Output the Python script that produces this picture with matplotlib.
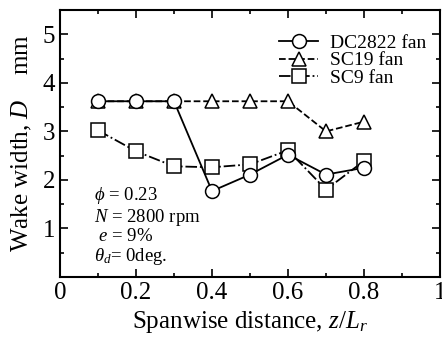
import matplotlib
matplotlib.use("Agg")
import matplotlib.pyplot as plt
from matplotlib.ticker import MultipleLocator

plt.rcParams['font.family'] = ['Liberation Serif', 'DejaVu Serif']
plt.rcParams['mathtext.fontset'] = 'custom'
plt.rcParams['mathtext.it'] = 'Liberation Serif:italic'
plt.rcParams['mathtext.rm'] = 'Liberation Serif'

z = [0.1, 0.2, 0.3, 0.4, 0.5, 0.6, 0.7, 0.8]
dc2822 = [3.62, 3.62, 3.62, 1.77, 2.11, 2.52, 2.11, 2.25]
sc19 = [3.62, 3.62, 3.62, 3.62, 3.62, 3.62, 3.0, 3.2]
sc9 = [3.02, 2.59, 2.28, 2.26, 2.32, 2.61, 1.8, 2.39]

fig = plt.figure(figsize=(4.42, 3.38), dpi=100)
ax = fig.add_axes([60/442, 61/338, 380/442, 267/338])

mk = dict(color='black', mfc='white', mec='black', ms=10, lw=1.3, mew=1.1)
ax.plot(z, sc9, '-.', marker='s', label='SC9 fan', **mk)
ax.plot(z, sc19, '--', marker='^', label='SC19 fan', **mk)
ax.plot(z, dc2822, '-', marker='o', label='DC2822 fan', **mk)

ax.set_xlim(0, 1)
ax.set_ylim(0, 5.5)
ax.set_xticks([0, 0.2, 0.4, 0.6, 0.8, 1.0])
ax.set_xticklabels(['0', '0.2', '0.4', '0.6', '0.8', '1'])
ax.set_yticks([1, 2, 3, 4, 5])
ax.xaxis.set_minor_locator(MultipleLocator(0.1))
ax.yaxis.set_minor_locator(MultipleLocator(0.5))
ax.tick_params(which='both', direction='in', top=True, right=True, width=1.2)
ax.tick_params(which='major', length=6, labelsize=18)
ax.tick_params(which='minor', length=3)
for s in ax.spines.values():
    s.set_linewidth(1.5)

ax.set_xlabel('Spanwise distance, $z/L_r$', fontsize=18, labelpad=4)
ax.set_ylabel('Wake width, $D$    mm', fontsize=18, labelpad=6)

h, l = ax.get_legend_handles_labels()
ax.legend(h[::-1], l[::-1], loc='upper right', frameon=False, fontsize=14,
          handlelength=2.0, handletextpad=0.6, labelspacing=0.0,
          bbox_to_anchor=(1.01, 0.975))

ax.text(0.09, 1.9, '$\\phi$ = 0.23\n$N$ = 2800 rpm\n $e$ = 9%\n$\\theta_d$= 0deg.',
        fontsize=13.5, va='top', linespacing=1.05)

fig.savefig('out.png', dpi=100)
